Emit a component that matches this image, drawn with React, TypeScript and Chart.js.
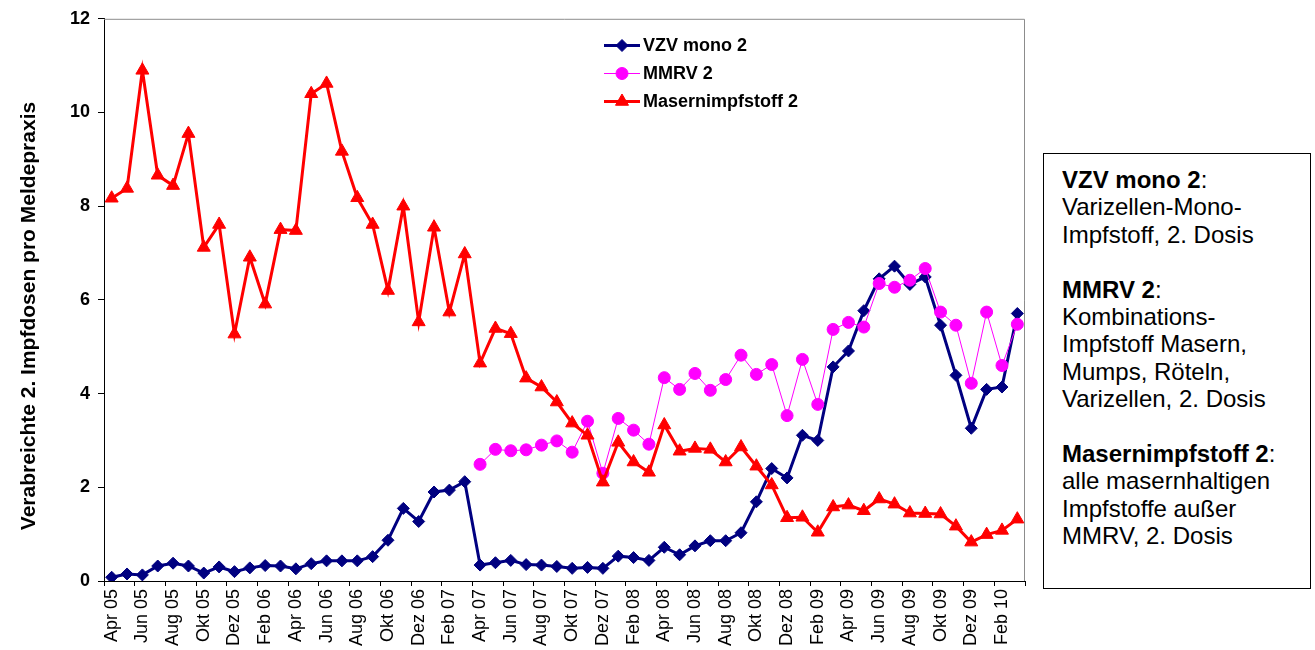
import React, { useEffect, useRef } from 'react';
import { Chart, registerables } from 'chart.js';

Chart.register(...registerables);

const categories = [
  'Apr 05', 'Mai 05', 'Jun 05', 'Jul 05', 'Aug 05', 'Sep 05', 'Okt 05', 'Nov 05', 'Dez 05',
  'Jan 06', 'Feb 06', 'Mrz 06', 'Apr 06', 'Mai 06', 'Jun 06', 'Jul 06', 'Aug 06', 'Sep 06', 'Okt 06', 'Nov 06', 'Dez 06',
  'Jan 07', 'Feb 07', 'Mrz 07', 'Apr 07', 'Mai 07', 'Jun 07', 'Jul 07', 'Aug 07', 'Sep 07', 'Okt 07', 'Nov 07', 'Dez 07',
  'Jan 08', 'Feb 08', 'Mrz 08', 'Apr 08', 'Mai 08', 'Jun 08', 'Jul 08', 'Aug 08', 'Sep 08', 'Okt 08', 'Nov 08', 'Dez 08',
  'Jan 09', 'Feb 09', 'Mrz 09', 'Apr 09', 'Mai 09', 'Jun 09', 'Jul 09', 'Aug 09', 'Sep 09', 'Okt 09', 'Nov 09', 'Dez 09',
  'Jan 10', 'Feb 10', 'Mrz 10',
];

const vzvMono2 = [
  0.08, 0.15, 0.13, 0.32, 0.38, 0.32, 0.17, 0.3, 0.2, 0.28, 0.33, 0.32, 0.26, 0.37, 0.43, 0.43, 0.43, 0.52, 0.87, 1.55,
  1.27, 1.9, 1.94, 2.12, 0.34, 0.39, 0.44, 0.35, 0.34, 0.31, 0.27, 0.29, 0.27, 0.53, 0.5, 0.44, 0.72, 0.56, 0.75, 0.86,
  0.86, 1.03, 1.69, 2.4, 2.2, 3.11, 3.0, 4.57, 4.91, 5.77, 6.45, 6.72, 6.33, 6.49, 5.46, 4.39, 3.26, 4.09, 4.14, 5.71,
];

const mmrv2 = [
  null, null, null, null, null, null, null, null, null, null, null, null, null, null, null, null, null, null, null, null,
  null, null, null, null, 2.49, 2.81, 2.78, 2.8, 2.9, 2.99, 2.75, 3.41, 2.3, 3.47, 3.22, 2.92, 4.34, 4.09, 4.43, 4.07,
  4.3, 4.82, 4.41, 4.62, 3.53, 4.73, 3.77, 5.37, 5.52, 5.42, 6.35, 6.27, 6.42, 6.67, 5.74, 5.46, 4.22, 5.74, 4.6, 5.48,
];

const masern2 = [
  8.17, 8.38, 10.9, 8.66, 8.44, 9.55, 7.12, 7.61, 5.27, 6.91, 5.91, 7.5, 7.48, 10.4, 10.62, 9.17, 8.18, 7.61, 6.2, 8.0,
  5.53, 7.55, 5.74, 6.98, 4.65, 5.39, 5.28, 4.33, 4.14, 3.82, 3.37, 3.11, 2.11, 2.96, 2.54, 2.32, 3.33, 2.77, 2.83, 2.81,
  2.54, 2.86, 2.45, 2.05, 1.35, 1.36, 1.04, 1.58, 1.62, 1.5, 1.75, 1.64, 1.45, 1.44, 1.43, 1.17, 0.83, 0.99, 1.08, 1.32,
];

const seriesNames = ['VZV mono 2', 'MMRV 2', 'Masernimpfstoff 2'];
const yTitle = 'Verabreichte 2. Impfdosen pro Meldepraxis';

const FONT = '"Liberation Sans", Arial, sans-serif';

function drawMarker(ctx: CanvasRenderingContext2D, style: string, x: number, y: number, r: number, color: string) {
  ctx.save();
  ctx.fillStyle = color;
  ctx.strokeStyle = color;
  ctx.lineWidth = 1;
  ctx.beginPath();
  if (style === 'rectRot') {
    ctx.moveTo(x - r, y);
    ctx.lineTo(x, y - r);
    ctx.lineTo(x + r, y);
    ctx.lineTo(x, y + r);
    ctx.closePath();
  } else if (style === 'circle') {
    ctx.arc(x, y, r, 0, Math.PI * 2);
  } else {
    const s = Math.sin((2 * Math.PI) / 3);
    ctx.moveTo(x, y - r);
    ctx.lineTo(x + s * r, y + r / 2);
    ctx.lineTo(x - s * r, y + r / 2);
    ctx.closePath();
  }
  ctx.fill();
  ctx.stroke();
  ctx.restore();
}

const framePlugin = {
  id: 'frame',
  beforeDatasetsDraw(chart: any) {
    const { ctx, chartArea } = chart;
    ctx.save();
    ctx.strokeStyle = '#8c8c8c';
    ctx.lineWidth = 1;
    ctx.beginPath();
    ctx.moveTo(chartArea.left, chartArea.top + 0.5);
    ctx.lineTo(chartArea.right - 0.5, chartArea.top + 0.5);
    ctx.lineTo(chartArea.right - 0.5, chartArea.bottom);
    ctx.stroke();
    ctx.restore();
  },
};

const legendPlugin = {
  id: 'insideLegend',
  afterDraw(chart: any) {
    const ctx = chart.ctx;
    chart.data.datasets.forEach((ds: any, i: number) => {
      const y = 45.5 + i * 28;
      ctx.save();
      ctx.strokeStyle = ds.borderColor;
      ctx.lineWidth = ds.borderWidth;
      ctx.beginPath();
      ctx.moveTo(604, y);
      ctx.lineTo(640, y);
      ctx.stroke();
      ctx.restore();
      drawMarker(ctx, ds.pointStyle, 622, y, ds.pointRadius, ds.pointBackgroundColor);
      ctx.save();
      ctx.fillStyle = '#000';
      ctx.font = `bold 18px ${FONT}`;
      ctx.textAlign = 'left';
      ctx.textBaseline = 'middle';
      ctx.fillText(ds.label, 643, y + 1);
      ctx.restore();
    });
  },
};

const yTitlePlugin = {
  id: 'yTitle',
  afterDraw(chart: any) {
    const ctx = chart.ctx;
    ctx.save();
    ctx.translate(29, 316);
    ctx.rotate(-Math.PI / 2);
    ctx.fillStyle = '#000';
    ctx.font = `bold 21px ${FONT}`;
    ctx.textAlign = 'center';
    ctx.textBaseline = 'middle';
    ctx.fillText(yTitle, 0, 0);
    ctx.restore();
  },
};

export default function App() {
  const ref = useRef<HTMLCanvasElement | null>(null);

  useEffect(() => {
    if (!ref.current) return;
    Chart.defaults.font.family = FONT;
    const chart = new Chart(ref.current, {
      type: 'line',
      data: {
        labels: categories,
        datasets: [
          {
            label: seriesNames[0],
            data: vzvMono2,
            borderColor: '#000080',
            backgroundColor: '#000080',
            borderWidth: 3,
            pointStyle: 'rectRot',
            pointRadius: 6,
            pointBackgroundColor: '#000080',
            pointBorderColor: '#000080',
            pointBorderWidth: 1,
            tension: 0,
            order: 3,
          },
          {
            label: seriesNames[1],
            data: mmrv2,
            borderColor: '#ff00ff',
            backgroundColor: '#ff00ff',
            borderWidth: 1,
            pointStyle: 'circle',
            pointRadius: 6,
            pointBackgroundColor: '#ff00ff',
            pointBorderColor: '#ff00ff',
            pointBorderWidth: 1,
            tension: 0,
            order: 2,
          },
          {
            label: seriesNames[2],
            data: masern2,
            borderColor: '#ff0000',
            backgroundColor: '#ff0000',
            borderWidth: 3,
            pointStyle: 'triangle',
            pointRadius: 7.5,
            pointBackgroundColor: '#ff0000',
            pointBorderColor: '#ff0000',
            pointBorderWidth: 1,
            tension: 0,
            order: 1,
          },
        ] as any,
      },
      options: {
        animation: false,
        responsive: false,
        devicePixelRatio: 1,
        layout: { padding: { left: 0, right: 290, top: 18, bottom: 0 } },
        plugins: {
          legend: { display: false },
          tooltip: { enabled: false },
          title: { display: false },
        },
        scales: {
          x: {
            type: 'category',
            offset: true,
            grid: {
              offset: true,
              drawOnChartArea: false,
              drawTicks: true,
              tickLength: 5,
              tickColor: (c: any) =>
                c.index === undefined || c.index % 2 === 0 ? '#000' : 'rgba(0,0,0,0)',
            },
            border: { color: '#000', width: 1 },
            ticks: {
              autoSkip: false,
              maxRotation: 90,
              minRotation: 90,
              padding: 3,
              color: '#000',
              font: { size: 18, family: FONT },
              callback: (_v: any, i: number) => (i % 2 === 0 ? categories[i] : ''),
            },
            afterFit: (s: any) => {
              s.height = 69;
            },
          },
          y: {
            min: 0,
            max: 12,
            grid: {
              drawOnChartArea: false,
              tickLength: 6,
              color: '#000',
            },
            border: { color: '#000', width: 1 },
            ticks: {
              stepSize: 2,
              padding: 8,
              color: '#000',
              font: { size: 18, weight: 'bold', family: FONT },
            },
            afterFit: (s: any) => {
              s.width = 104;
            },
          },
        },
      },
      plugins: [framePlugin, legendPlugin, yTitlePlugin],
    });
    return () => chart.destroy();
  }, []);

  const lineStyle: React.CSSProperties = { whiteSpace: 'nowrap' };

  return (
    <div style={{ position: 'absolute', left: 0, top: 0, width: 1315, height: 650, background: '#fff', overflow: 'hidden' }}>
      <canvas ref={ref} width={1315} height={650} style={{ position: 'absolute', left: 0, top: 0, width: 1315, height: 650 }} />
      <div
        style={{
          position: 'absolute',
          left: 1043,
          top: 153,
          width: 268,
          height: 436,
          boxSizing: 'border-box',
          border: '1px solid #000',
          paddingLeft: 18,
          paddingTop: 12,
          fontFamily: FONT,
          fontSize: 24,
          lineHeight: '27.4px',
          color: '#000',
          background: '#fff',
        }}
      >
        <div style={lineStyle}><b>VZV mono 2</b>:</div>
        <div style={lineStyle}>Varizellen-Mono-</div>
        <div style={lineStyle}>Impfstoff, 2. Dosis</div>
        <div style={lineStyle}>&nbsp;</div>
        <div style={lineStyle}><b>MMRV 2</b>:</div>
        <div style={lineStyle}>Kombinations-</div>
        <div style={lineStyle}>Impfstoff Masern,</div>
        <div style={lineStyle}>Mumps, Röteln,</div>
        <div style={lineStyle}>Varizellen, 2. Dosis</div>
        <div style={lineStyle}>&nbsp;</div>
        <div style={lineStyle}><b>Masernimpfstoff 2</b>:</div>
        <div style={lineStyle}>alle masernhaltigen</div>
        <div style={lineStyle}>Impfstoffe außer</div>
        <div style={lineStyle}>MMRV, 2. Dosis</div>
      </div>
    </div>
  );
}
